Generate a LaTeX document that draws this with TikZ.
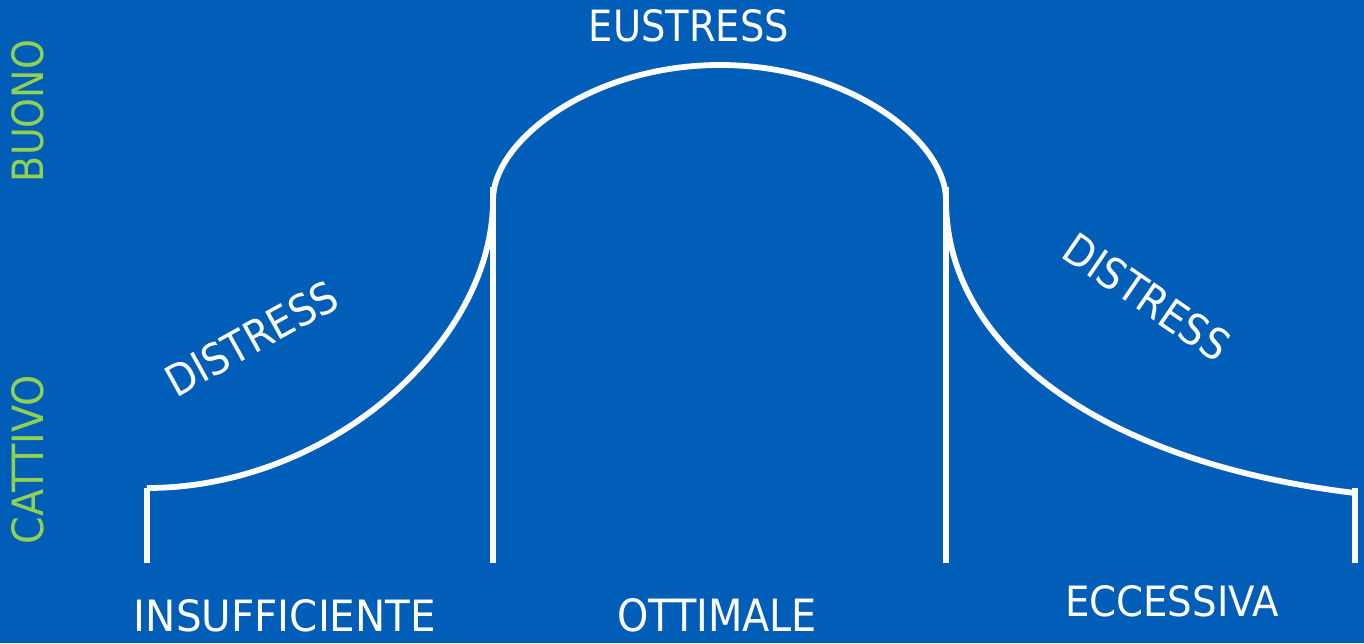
\documentclass[tikz,border=0pt]{standalone}
\usepackage{graphicx}
\usepackage{fontspec}
\newfontfamily\labfont{DejaVu Sans}
\definecolor{bgblue}{RGB}{0,94,184}
\definecolor{axisgreen}{RGB}{146,208,80}
\newcommand{\lab}[3]{\resizebox{#1pt}{#2pt}{\labfont #3}}
\tikzset{
  curve/.style={draw=white, line width=5.8pt},
  tick/.style={draw=white, line width=5.8pt},
  lbl/.style={text=white, inner sep=0pt, outer sep=0pt, anchor=center},
  axlbl/.style={text=axisgreen, inner sep=0pt, outer sep=0pt, anchor=center, rotate=90}
}
\begin{document}
\begin{tikzpicture}[x=1pt,y=-1pt]
\fill[bgblue] (0,0) rectangle (1364,643);
\useasboundingbox (0,0) rectangle (1364,643);

% key points
\coordinate (l0) at (147,563);
\coordinate (l1) at (147,488);
\coordinate (m0) at (493,563);
\coordinate (m1) at (493,187);
\coordinate (ml) at (493,200);
\coordinate (top) at (720,65);
\coordinate (mr) at (946,200);
\coordinate (n0) at (946,563);
\coordinate (n1) at (946,187);
\coordinate (r0) at (1355,563);
\coordinate (r1) at (1355,488);
\coordinate (re) at (1355,493);

% verticals
\draw[tick] (l0) -- (l1);
\draw[tick] (m0) -- (m1);
\draw[tick] (n0) -- (n1);
\draw[tick] (r0) -- (r1);

% curves
\draw[curve] (l1) .. controls (330,488) and (493,342) .. (ml);
\draw[curve] (ml) .. controls (493,140) and (592,65) .. (top)
                  .. controls (848,65) and (946,140) .. (mr);
\draw[curve] (mr) .. controls (946,350) and (1105,463) .. (re);

% labels
\node[lbl] (eu) at (689,26) {\lab{200}{32}{EUSTRESS}};
\node[lbl] (ins) at (285,616) {\lab{302}{32}{INSUFFICIENTE}};
\node[lbl] (ott) at (717,615.5) {\lab{200}{33}{OTTIMALE}};
\node[lbl] (ecc) at (1172,601.5) {\lab{214}{31}{ECCESSIVA}};
\node[lbl, rotate=29] (dl) at (251.5,338.5) {\lab{190}{32}{DISTRESS}};
\node[lbl, rotate=-34.5] (dr) at (1147,297) {\lab{190}{32}{DISTRESS}};
\node[axlbl] (buono) at (28,111) {\lab{142}{32}{BUONO}};
\node[axlbl] (cattivo) at (28,459.5) {\lab{169}{32}{CATTIVO}};
\end{tikzpicture}
\end{document}
